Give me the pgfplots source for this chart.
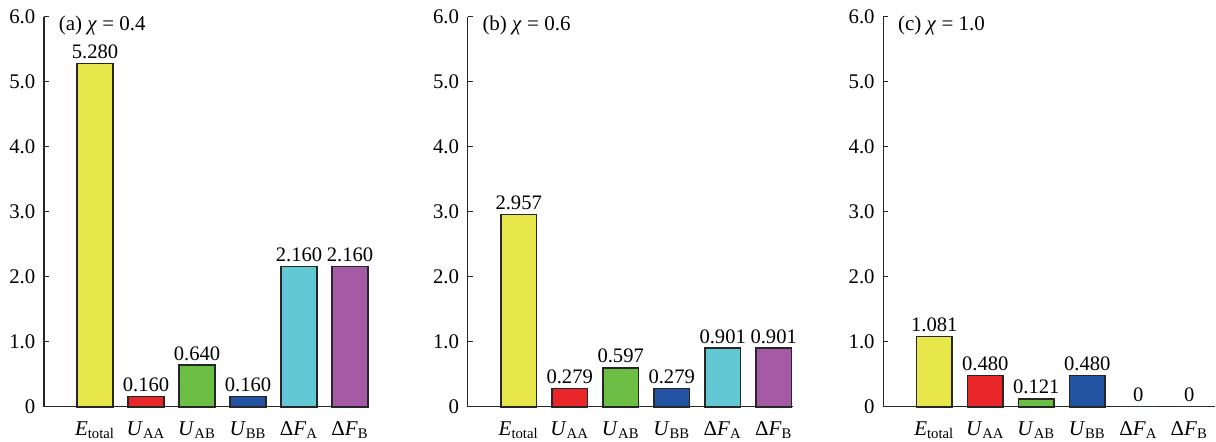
\documentclass[border=0pt]{standalone}
\usepackage{fontspec}
\setmainfont{Liberation Serif}
\usepackage{pgfplots}
\pgfplotsset{compat=1.18}
\definecolor{cY}{RGB}{231,231,76}
\definecolor{cR}{RGB}{233,38,41}
\definecolor{cG}{RGB}{109,190,69}
\definecolor{cB}{RGB}{34,84,163}
\definecolor{cC}{RGB}{98,200,212}
\definecolor{cP}{RGB}{164,90,164}
\pgfplotsset{
  panel/.style={
    x=25.5pt, y=32.5pt, xmin=-1, ymin=0, ymax=6,
    axis lines=left, axis line style={-, line width=0.65pt, black!85},
    anchor=south west, clip=false,
    ytick={0,1,2,3,4,5,6}, yticklabels={0,1.0,2.0,3.0,4.0,5.0,6.0},
    xtick={0,1,2,3,4,5},
    xticklabels={\textit{E}\textsubscript{total},\textit{U}\textsubscript{AA},\textit{U}\textsubscript{AB},\textit{U}\textsubscript{BB},Δ\textit{F}\textsubscript{A},Δ\textit{F}\textsubscript{B}},
    tick align=inside, major tick length=2.5pt,
    xtick style={draw=none}, ytick style={line width=0.65pt, black!85},
    yticklabel style={xshift=-0.8pt, font=\fontsize{10.4}{12}\selectfont},
    xticklabel style={font=\fontsize{10.5}{12}\selectfont, text height=7pt, text depth=2pt, yshift=-1.3pt},
    ybar, bar width=0.7, bar shift=0pt,
    nodes near coords, point meta=explicit symbolic,
    every node near coord/.append style={inner sep=2pt, font=\fontsize{10.3}{12}\selectfont},
    every axis plot/.append style={draw=black!85, line width=0.8pt, bar shift=0pt},
  }
}
\begin{document}
\begin{tikzpicture}
\useasboundingbox (0,0) rectangle (608pt,220.5pt);
% (a)
\begin{axis}[panel, at={(22pt,17.15pt)}, xmax=5.36]
\addplot[fill=cY] coordinates {(0,5.280) [5.280]};
\addplot[fill=cR] coordinates {(1,0.160) [0.160]};
\addplot[fill=cG] coordinates {(2,0.640) [0.640]};
\addplot[fill=cB] coordinates {(3,0.160) [0.160]};
\addplot[fill=cC] coordinates {(4,2.160) [2.160]};
\addplot[fill=cP] coordinates {(5,2.160) [2.160]};
\node[anchor=base west, inner sep=0, xshift=7.2pt, yshift=-7pt, font=\fontsize{10.5}{12}\selectfont] at (rel axis cs:0,1) {(a) \textit{χ} = 0.4};
\end{axis}
% (b)
\begin{axis}[panel, at={(233.85pt,17.15pt)}, xmax=5.38]
\addplot[fill=cY] coordinates {(0,2.957) [2.957]};
\addplot[fill=cR] coordinates {(1,0.279) [0.279]};
\addplot[fill=cG] coordinates {(2,0.597) [0.597]};
\addplot[fill=cB] coordinates {(3,0.279) [0.279]};
\addplot[fill=cC] coordinates {(4,0.901) [0.901]};
\addplot[fill=cP] coordinates {(5,0.901) [0.901]};
\node[anchor=base west, inner sep=0, xshift=7.2pt, yshift=-7pt, font=\fontsize{10.5}{12}\selectfont] at (rel axis cs:0,1) {(b) \textit{χ} = 0.6};
\end{axis}
% (c)
\begin{axis}[panel, at={(441.65pt,17.15pt)}, xmax=5.5]
\addplot[fill=cY] coordinates {(0,1.081) [1.081]};
\addplot[fill=cR] coordinates {(1,0.480) [0.480]};
\addplot[fill=cG] coordinates {(2,0.121) [0.121]};
\addplot[fill=cB] coordinates {(3,0.480) [0.480]};
\addplot[fill=cC, draw=none] coordinates {(4,0) [0]};
\addplot[fill=cP, draw=none] coordinates {(5,0) [0]};
\node[anchor=base west, inner sep=0, xshift=7.2pt, yshift=-7pt, font=\fontsize{10.5}{12}\selectfont] at (rel axis cs:0,1) {(c) \textit{χ} = 1.0};
\end{axis}
\end{tikzpicture}
\end{document}
